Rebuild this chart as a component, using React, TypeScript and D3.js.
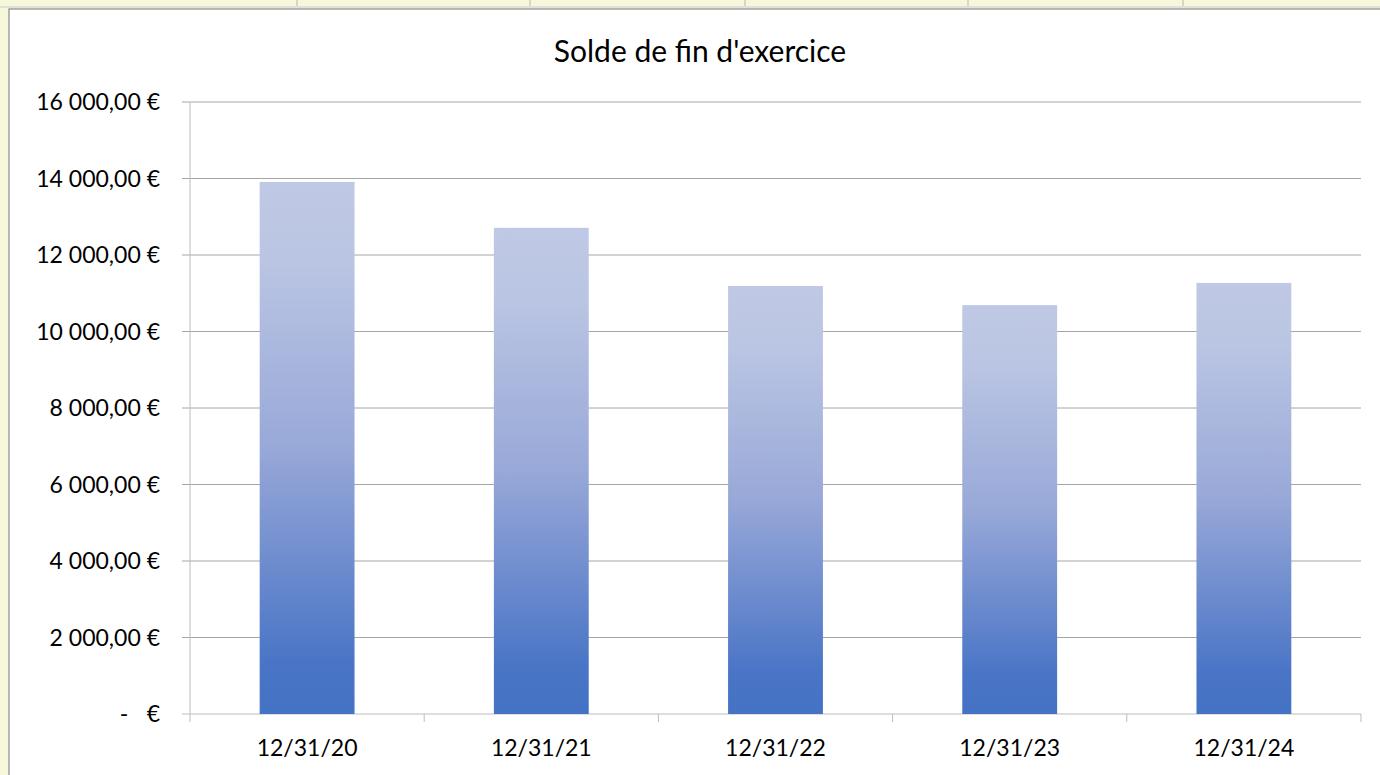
import { useEffect, useRef } from 'react';
import * as d3 from 'd3';

// data
const categories = ['12/31/20', '12/31/21', '12/31/22', '12/31/23', '12/31/24'];
const soldes = [13910, 12710, 11190, 10690, 11270];
const yTicks = [0, 2000, 4000, 6000, 8000, 10000, 12000, 14000, 16000];
const title = "Solde de fin d'exercice";

const W = 1380;
const H = 775;

const fmt = (v: number) => {
  if (v === 0) return '';
  const s = d3.format(',.2f')(v);
  return s.replace(/,/g, ' ').replace('.', ',') + ' €';
};

const App = () => {
  const svgRef = useRef<SVGSVGElement>(null);

  useEffect(() => {
    if (!svgRef.current) return;
    const svg = d3.select(svgRef.current);
    svg.selectAll('*').remove();

    const margin = { top: 102, right: 19, bottom: 61, left: 190 };
    const width = W - margin.left - margin.right;
    const height = H - margin.top - margin.bottom;

    // spreadsheet surroundings
    svg.append('rect').attr('width', W).attr('height', H).attr('fill', '#f7f7dc');
    const cellEdges = [297, 530, 745, 968, 1183];
    svg.selectAll('line.cell')
      .data(cellEdges)
      .enter()
      .append('line')
      .attr('x1', d => d).attr('x2', d => d)
      .attr('y1', 0).attr('y2', 8)
      .attr('stroke', '#d8d8c8').attr('stroke-width', 2);
    svg.append('rect').attr('x', 0).attr('y', 6).attr('width', W).attr('height', 2).attr('fill', '#e2e2d4');
    svg.append('rect').attr('x', 9).attr('y', 9).attr('width', W).attr('height', H)
      .attr('fill', '#ffffff').attr('stroke', '#a0a0a0').attr('stroke-width', 1.5);

    const defs = svg.append('defs');
    const grad = defs.append('linearGradient')
      .attr('id', 'barGrad')
      .attr('x1', 0).attr('y1', 0).attr('x2', 0).attr('y2', 1);
    grad.append('stop').attr('offset', '0%').attr('stop-color', '#bfc9e5');
    grad.append('stop').attr('offset', '15%').attr('stop-color', '#bac5e3');
    grad.append('stop').attr('offset', '50%').attr('stop-color', '#98a8d8');
    grad.append('stop').attr('offset', '90%').attr('stop-color', '#4a75c6');
    grad.append('stop').attr('offset', '100%').attr('stop-color', '#4472c4');

    const g = svg.append('g').attr('transform', `translate(${margin.left},${margin.top})`);

    const xScale = d3.scaleBand()
      .range([0, width])
      .domain(categories)
      .paddingInner(0.595)
      .paddingOuter(0.2975);

    const yScale = d3.scaleLinear()
      .range([height, 0])
      .domain([0, 16000]);

    // gridlines + y ticks
    g.selectAll('line.grid')
      .data(yTicks)
      .enter()
      .append('line')
      .attr('x1', -8).attr('x2', width)
      .attr('y1', d => yScale(d)).attr('y2', d => yScale(d))
      .attr('stroke', d => (d === 0 ? '#bdbdbd' : '#a6a6a6'))
      .attr('stroke-width', 1);

    g.append('line')
      .attr('x1', 0).attr('x2', 0)
      .attr('y1', 0).attr('y2', height + 8)
      .attr('stroke', '#bdbdbd');

    const step = xScale.step();
    const bounds = d3.range(categories.length + 1).map(i => i * step);
    g.selectAll('line.xt')
      .data(bounds.slice(1))
      .enter()
      .append('line')
      .attr('x1', d => d).attr('x2', d => d)
      .attr('y1', height).attr('y2', height + 8)
      .attr('stroke', '#bdbdbd');

    // bars
    g.selectAll('rect.bar')
      .data(soldes)
      .enter()
      .append('rect')
      .attr('x', (_, i) => xScale(categories[i]) ?? 0)
      .attr('y', d => yScale(d))
      .attr('width', xScale.bandwidth())
      .attr('height', d => height - yScale(d))
      .attr('fill', 'url(#barGrad)');

    const font = 'Lato, "Open Sans", sans-serif';

    g.selectAll('text.yl')
      .data(yTicks.filter(d => d !== 0))
      .enter()
      .append('text')
      .attr('x', -30)
      .attr('y', d => yScale(d))
      .attr('dy', '0.35em')
      .attr('text-anchor', 'end')
      .attr('font-family', font)
      .attr('font-size', 23)
      .attr('fill', '#000')
      .text(d => fmt(d));

    g.append('text')
      .attr('x', -66).attr('y', height).attr('dy', '0.35em')
      .attr('text-anchor', 'middle')
      .attr('font-family', font).attr('font-size', 23)
      .text('-');
    g.append('text')
      .attr('x', -30).attr('y', height).attr('dy', '0.35em')
      .attr('text-anchor', 'end')
      .attr('font-family', font).attr('font-size', 23)
      .text('€');

    g.selectAll('text.xl')
      .data(categories)
      .enter()
      .append('text')
      .attr('x', d => (xScale(d) ?? 0) + xScale.bandwidth() / 2)
      .attr('y', height + 34)
      .attr('dy', '0.35em')
      .attr('text-anchor', 'middle')
      .attr('font-family', font)
      .attr('font-size', 23)
      .text(d => d);

    svg.append('text')
      .attr('x', 700)
      .attr('y', 51)
      .attr('dy', '0.35em')
      .attr('text-anchor', 'middle')
      .attr('font-family', font)
      .attr('font-size', 30)
      .text(title);
  }, []);

  return (
    <div style={{ position: 'fixed', left: 0, top: 0 }}>
      <svg ref={svgRef} width={W} height={H} style={{ display: 'block' }}></svg>
    </div>
  );
};

export default App;
